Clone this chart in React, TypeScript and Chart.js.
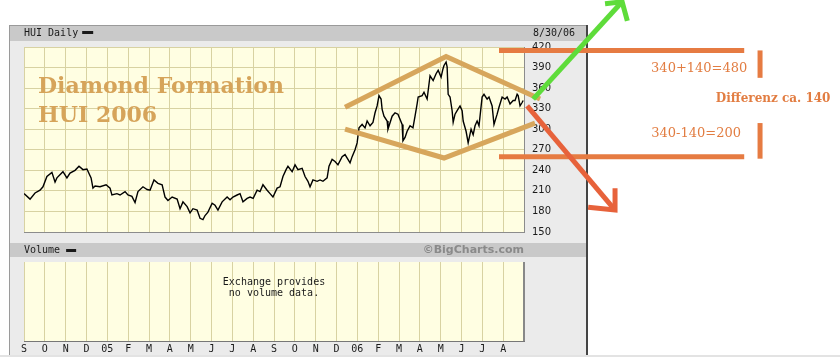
import React, { useEffect, useRef } from 'react';
import { Chart, registerables } from 'chart.js';
Chart.register(...registerables);

// x axis: months since Sep 2004 (0..24), one tick per month
const monthTickLabels = ['S','O','N','D','05','F','M','A','M','J','J','A','S','O','N','D','06','F','M','A','M','J','J','A',''];
const priceTickMin = 150;
const priceTickMax = 420;
const priceTickStep = 30;

// HUI daily closes (x in months since 1 Sep 2004)
const priceMonths = [
  0.00,0.29,0.53,0.77,0.91,1.10,1.34,1.49,1.58,1.87,
  2.06,2.21,2.45,2.64,2.83,3.02,3.22,3.31,3.41,3.65,
  3.94,4.13,4.22,4.46,4.61,4.85,4.99,5.18,5.33,5.47,
  5.71,5.91,6.05,6.24,6.43,6.63,6.77,6.91,7.11,7.35,
  7.49,7.63,7.83,7.97,8.11,8.31,8.45,8.59,8.69,8.83,
  9.03,9.17,9.31,9.51,9.75,9.89,10.03,10.23,10.37,10.51,
  10.71,10.85,11.00,11.19,11.33,11.47,11.67,11.81,11.95,12.15,
  12.29,12.43,12.58,12.67,12.87,13.01,13.15,13.35,13.49,13.63,
  13.73,13.87,14.07,14.21,14.35,14.55,14.64,14.79,14.93,15.07,
  15.27,15.41,15.55,15.65,15.75,15.89,15.99,16.08,16.23,16.37,
  16.47,16.61,16.75,16.85,16.95,17.04,17.14,17.19,17.28,17.43,
  17.47,17.67,17.81,17.95,18.15,18.19,18.29,18.39,18.53,18.67,
  18.77,18.87,18.92,19.11,19.20,19.35,19.49,19.64,19.78,19.88,
  20.02,20.11,20.16,20.26,20.31,20.36,20.45,20.55,20.60,20.69,
  20.79,20.93,21.03,21.08,21.22,21.32,21.46,21.56,21.65,21.75,
  21.84,21.99,22.08,22.23,22.32,22.47,22.56,22.71,22.80,22.95,
  23.09,23.19,23.33,23.48,23.57,23.67,23.72,23.81,23.91,23.96
];
const priceValues = [
  206,198,207,211,216,231,237,223,229,238,
  229,236,240,246,241,242,229,214,217,216,
  219,214,204,206,204,209,204,202,193,209,
  216,212,211,226,221,219,201,196,201,198,
  184,194,187,178,184,182,170,168,174,179,
  192,189,182,194,201,197,201,204,206,194,
  199,201,199,211,209,219,211,206,201,214,
  216,231,241,246,238,248,241,243,231,224,
  216,226,224,226,224,229,246,256,253,248,
  260,263,256,251,260,270,280,302,307,302,
  312,305,310,324,334,349,344,329,319,312,
  300,319,324,322,307,283,288,297,305,302,
  319,337,347,349,354,344,378,371,381,386,
  376,388,393,398,391,351,347,327,310,322,
  327,334,327,312,297,280,300,292,305,312,
  305,347,351,344,347,334,307,322,332,347,
  344,347,337,342,342,351,349,334,339,342
];

// hand-drawn annotations, in data units [month, value]
const diamondUpper = [[15.41,332],[20.26,406],[24.77,344]];
const diamondLower = [[15.41,300],[20.16,258],[24.53,309]];
const greenShaft = [[24.44,344],[28.71,486]];
const greenHead = [[27.89,483],[28.71,486],[28.96,458]];
const redShaft = [[24.15,334],[28.37,182]];
const redHead = [[28.37,214],[28.37,182],[27.08,186]];
const targetLines = [
  [[22.80,415],[34.57,415]],
  [[22.80,260],[34.57,260]]
];
const targetBars = [
  [[35.33,415],[35.33,375]],
  [[35.33,309],[35.33,257]]
];
const titleLines = [
  { text: 'Diamond Formation', m: 0.67, v: 353 },
  { text: 'HUI 2006', m: 0.67, v: 310 }
];
const noteTexts = [
  { text: '340+140=480', m: 32.41, v: 388, bold: false },
  { text: 'Differenz ca. 140', m: 35.96, v: 344, bold: true },
  { text: '340-140=200', m: 32.26, v: 294, bold: false }
];
const headerTitle = 'HUI Daily';
const headerDate = '8/30/06';
const volumeTitle = 'Volume';
const creditText = '©BigCharts.com';
const volumeNote = ['Exchange provides', 'no volume data.'];

const MONO = '"DejaVu Sans Mono", monospace';
const PLOT_BG = '#fffee2';
const GRID = '#d8d2a2';

function stroke(chart: any, pts: number[][], color: string, width: number) {
  const ctx = chart.ctx;
  const xs = chart.scales.x, ys = chart.scales.y;
  ctx.save();
  ctx.beginPath();
  pts.forEach(([m, v], i) => {
    const X = xs.getPixelForValue(m), Y = ys.getPixelForValue(v);
    if (i === 0) ctx.moveTo(X, Y); else ctx.lineTo(X, Y);
  });
  ctx.strokeStyle = color;
  ctx.lineWidth = width;
  ctx.lineJoin = 'miter';
  ctx.lineCap = 'butt';
  ctx.stroke();
  ctx.restore();
}

const panelPlugin = {
  id: 'panel',
  beforeDraw(chart: any) {
    const { ctx, chartArea: ca, width, height } = chart;
    ctx.save();
    ctx.fillStyle = '#ffffff';
    ctx.fillRect(0, 0, width, height);
    const pl = ca.left - 15, pt = ca.top - 22, pr = ca.right + 62, pb = height - 2;
    ctx.fillStyle = '#ebebeb';
    ctx.fillRect(pl, pt, pr - pl, pb - pt);
    ctx.fillStyle = '#c9c9c9';
    ctx.fillRect(pl, pt + 1, pr - pl, 15);
    ctx.fillRect(pl, ca.bottom + 11, pr - pl, 14);
    ctx.fillStyle = '#9a9a9a';
    ctx.fillRect(pl, pt, pr - pl, 1);
    ctx.fillRect(pl, pt, 1, pb - pt);
    ctx.fillStyle = '#444444';
    ctx.fillRect(pr, pt, 2, pb - pt);
    ctx.fillStyle = '#e3e3e3';
    ctx.fillRect(0, pb, width, 2);
    ctx.fillStyle = PLOT_BG;
    ctx.fillRect(ca.left, ca.top, ca.right - ca.left, ca.bottom - ca.top);
    ctx.restore();
  },
  afterDraw(chart: any) {
    const { ctx, chartArea: ca } = chart;
    const xs = chart.scales.x, ys = chart.scales.y;
    ctx.save();
    // header texts
    ctx.font = '10px ' + MONO;
    ctx.fillStyle = '#1a1a1a';
    ctx.textBaseline = 'middle';
    ctx.textAlign = 'left';
    ctx.fillText(headerTitle, ca.left, ca.top - 14);
    const w1 = ctx.measureText(headerTitle).width;
    ctx.fillRect(ca.left + w1 + 4, ca.top - 16, 11, 3);
    ctx.fillText(headerDate, ca.right + 9, ca.top - 14);
    ctx.fillText(volumeTitle, ca.left, ca.bottom + 18);
    const w2 = ctx.measureText(volumeTitle).width;
    ctx.fillRect(ca.left + w2 + 6, ca.bottom + 17, 10, 3);
    ctx.font = 'bold 11px "DejaVu Sans", sans-serif';
    ctx.fillStyle = '#8a8a8a';
    ctx.textAlign = 'right';
    ctx.fillText(creditText, ca.right, ca.bottom + 18);

    // title
    ctx.font = 'bold 22px "DejaVu Serif", serif';
    ctx.fillStyle = '#d6a45a';
    ctx.textAlign = 'left';
    ctx.textBaseline = 'alphabetic';
    titleLines.forEach(t => ctx.fillText(t.text, xs.getPixelForValue(t.m), ys.getPixelForValue(t.v)));
    ctx.restore();

    // drawn lines
    stroke(chart, diamondUpper, '#d7a65c', 5);
    stroke(chart, diamondLower, '#d7a65c', 5);
    targetLines.forEach(l => stroke(chart, l, '#e67b42', 5));
    targetBars.forEach(l => stroke(chart, l, '#e67b42', 5));
    stroke(chart, greenShaft, '#5edc3a', 5);
    stroke(chart, greenHead, '#5edc3a', 5);
    stroke(chart, redShaft, '#e7623b', 5);
    stroke(chart, redHead, '#e7623b', 5);

    ctx.save();
    ctx.fillStyle = '#e27d42';
    ctx.textAlign = 'center';
    ctx.textBaseline = 'middle';
    noteTexts.forEach(t => {
      ctx.font = (t.bold ? 'bold 12px' : '13px') + ' "DejaVu Serif", serif';
      ctx.fillText(t.text, xs.getPixelForValue(t.m), ys.getPixelForValue(t.v));
    });
    ctx.restore();
  }
};

const volumePlugin = {
  id: 'volpanel',
  beforeDraw(chart: any) {
    const { ctx, chartArea: ca } = chart;
    ctx.save();
    ctx.fillStyle = PLOT_BG;
    ctx.fillRect(ca.left, ca.top, ca.right - ca.left, ca.bottom - ca.top);
    ctx.restore();
  },
  afterDraw(chart: any) {
    const { ctx, chartArea: ca } = chart;
    ctx.save();
    ctx.fillStyle = '#888888';
    ctx.fillRect(ca.right - 1, ca.top, 2, ca.bottom - ca.top);
    ctx.font = '10px ' + MONO;
    ctx.fillStyle = '#1a1a1a';
    ctx.textAlign = 'center';
    ctx.textBaseline = 'middle';
    const cx = (ca.left + ca.right) / 2;
    volumeNote.forEach((s, i) => ctx.fillText(s, cx, ca.top + 20 + i * 11));
    ctx.restore();
  }
};

export default function App() {
  const priceRef = useRef<HTMLCanvasElement>(null);
  const volRef = useRef<HTMLCanvasElement>(null);

  useEffect(() => {
    const priceChart = new Chart(priceRef.current!, {
      type: 'line',
      data: {
        datasets: [{
          data: priceMonths.map((m, i) => ({ x: m, y: priceValues[i] })),
          borderColor: '#000000',
          borderWidth: 1.4,
          pointRadius: 0,
          tension: 0,
          fill: false
        }]
      },
      options: {
        animation: false,
        responsive: false,
        devicePixelRatio: 1,
        layout: { padding: { left: 24, top: 47, right: 256, bottom: 125 } },
        plugins: { legend: { display: false }, tooltip: { enabled: false } },
        scales: {
          x: {
            type: 'linear', min: 0, max: 24,
            ticks: { display: false, stepSize: 1 },
            grid: { color: GRID, drawTicks: false, lineWidth: 1 },
            border: { display: true, color: '#8c8c8c' },
            afterFit: (s: any) => { s.height = 0; }
          },
          y: {
            position: 'right', min: priceTickMin, max: priceTickMax,
            ticks: { stepSize: priceTickStep, padding: 8, color: '#1a1a1a', font: { family: '"DejaVu Sans", sans-serif', size: 10 } },
            grid: { color: GRID, drawTicks: false },
            border: { display: true, color: '#8c8c8c' },
            afterFit: (s: any) => { s.width = 60; }
          }
        }
      } as any,
      plugins: [panelPlugin]
    });

    const volChart = new Chart(volRef.current!, {
      type: 'line',
      data: { datasets: [] },
      options: {
        animation: false,
        responsive: false,
        devicePixelRatio: 1,
        layout: { padding: { left: 24, top: 7, right: 64, bottom: 0 } },
        plugins: { legend: { display: false }, tooltip: { enabled: false } },
        scales: {
          x: {
            type: 'linear', min: 0, max: 24,
            ticks: {
              stepSize: 1, autoSkip: false, maxRotation: 0, padding: 2,
              color: '#1a1a1a', font: { family: MONO, size: 10 },
              callback: (v: any) => monthTickLabels[v] ?? ''
            },
            grid: { color: GRID, drawTicks: false },
            border: { display: true, color: '#777777' },
            afterFit: (s: any) => { s.height = 14; }
          },
          y: { display: false, min: 0, max: 1 }
        }
      } as any,
      plugins: [volumePlugin]
    });

    return () => { priceChart.destroy(); volChart.destroy(); };
  }, []);

  return (
    <div style={{ position: 'absolute', left: 0, top: 0, width: 840, height: 357 }}>
      <canvas ref={priceRef} width={840} height={357} style={{ position: 'absolute', left: 0, top: 0, display: 'block' }} />
      <canvas ref={volRef} width={588} height={100} style={{ position: 'absolute', left: 0, top: 255, display: 'block' }} />
    </div>
  );
}
